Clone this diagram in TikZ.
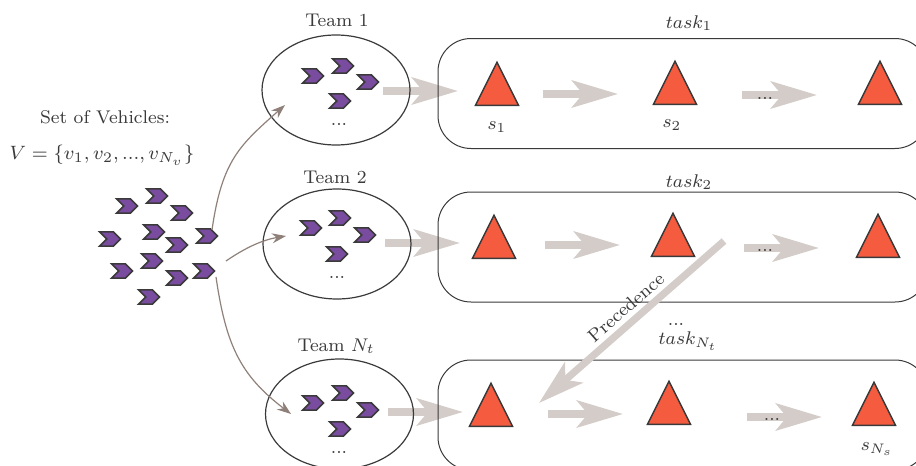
\documentclass[tikz,border=0pt]{standalone}
\usepackage{tikz}
\usetikzlibrary{arrows.meta,shapes.geometric,shapes.symbols}
\definecolor{vehiclefill}{HTML}{7A4C9F}
\definecolor{taskfill}{HTML}{F45B3F}
\definecolor{flowgray}{HTML}{D3CCC8}
\definecolor{linkgray}{HTML}{8F807A}
\definecolor{inkgray}{HTML}{3A3A3A}
\tikzstyle{lab}=[
  text=inkgray,
  font=\footnotesize,
  scale=1.15
]
\tikzstyle{vehicle}=[
  draw=inkgray,
  fill=vehiclefill,
  line width=0.75pt,
  signal,
  signal from=west,
  signal to=east,
  inner sep=0pt,
  minimum width=10.5pt,
  minimum height=7.2pt
]
\tikzstyle{target}=[
  draw=inkgray,
  fill=taskfill,
  line width=0.75pt,
  isosceles triangle,
  isosceles triangle apex angle=53,
  isosceles triangle stretches,
  shape border rotate=90,
  anchor=lower side,
  inner sep=0pt,
  minimum width=21.5pt,
  minimum height=21.5pt
]
\tikzstyle{team}=[
  draw=inkgray,
  ellipse,
  line width=0.6pt,
  minimum width=74pt,
  minimum height=55pt
]
\tikzstyle{taskbox}=[
  draw=inkgray,
  rectangle,
  rounded corners=16.5pt,
  line width=0.5pt,
  minimum width=245pt,
  minimum height=55pt
]
\tikzstyle{flow}=[
  draw=flowgray,
  line width=3.6pt,
  -{Stealth[length=23pt,width=13.5pt,inset=5.5pt,flowgray]}
]
\tikzstyle{link}=[
  draw=linkgray,
  line width=0.6pt,
  -{Stealth[length=7pt,width=5pt,linkgray]}
]
\begin{document}
\begin{tikzpicture}[x=0.5pt,y=-0.5pt]
          \clip (0,0) rectangle (916,466);

          % arrows along each row
          \foreach \i/\xa/\ya in {1/383/91,2/543/94,3/742/95,4/385/243,5/545/245,6/744/248,7/388/412,8/548/414,9/747/417}{
            \coordinate (fa\i) at (\xa,\ya);
            \coordinate (fb\i) at (\xa+75,\ya);
            \draw[flow] (fa\i) -- (fb\i);
          }

          \node[team] (team1) at (336,90) {};
          \node[team] (team2) at (337,244) {};
          \node[team] (team3) at (339.5,414) {};

          \node[taskbox] (box1) at (683,93.5) {};
          \node[taskbox] (box2) at (683,247) {};
          \node[taskbox] (box3) at (683,415) {};

          \foreach \i/\xa/\ya in {1/127/206,2/157/196,3/182/213,4/110/239,5/154/232,6/177/245,7/207/236,8/122/271,9/152/261,10/177/278,11/204/271,12/149/297,
            13/313/76,14/343/66,15/368/82,16/340/101,
            17/311/228,18/340/218,19/365/235,20/337/254,
            21/313/403,22/343/393,23/368/410,24/340/429}{
            \node[vehicle] (v\i) at (\xa,\ya) {};
          }

          \foreach \i/\xa/\ya in {1/497/106,2/675/105,3/880/105,4/494/259,5/673/257,6/878/258,7/491/427,8/669/425,9/874/426}{
            \node[target] (s\i) at (\xa,\ya) {};
          }

          \node[lab] (set) at (105,117) {Set of Vehicles:};
          \node[lab,scale=1.05] (vset) at (102,155) {$V=\{v_1,v_2,...,v_{N_v}\}$};

          \node[lab] (t1) at (337,20) {Team 1};
          \node[lab] (t2) at (335,177) {Team 2};
          \node[lab] (t3) at (336,346) {Team $N_t$};

          \node[lab] (k1) at (689,23) {$task_1$};
          \node[lab] (k2) at (689,182) {$task_2$};
          \node[lab] (k3) at (688,341) {$task_{N_t}$};

          \node[lab] (l1) at (497,127) {$s_1$};
          \node[lab] (l2) at (672,125) {$s_2$};
          \node[lab] (l3) at (877,449) {$s_{N_s}$};

          % dots
          \foreach \i/\xa/\ya in {1/339/124,2/337/277,3/339/452,4/676/324,5/765/98,6/765/250,7/772/419}{
            \node[lab] (d\i) at (\xa,\ya) {...};
          }

          % links from the vehicles to the teams
          \coordinate (a1) at (212,230);
          \coordinate (a2) at (226,261);
          \coordinate (a3) at (216,277);
          \coordinate (b1) at (285,105);
          \coordinate (b2) at (286,236);
          \coordinate (b3) at (291,414);
          \draw[link] (a1) .. controls (222,160) and (240,145) .. (b1);
          \draw[link] (a2) .. controls (245,248) and (262,240) .. (b2);
          \draw[link] (a3) .. controls (226,345) and (240,375) .. (b3);

          \coordinate (pa) at (724,241);
          \coordinate (pb) at (539,403);
          \draw[flow] (pa) -- (pb) node[lab,pos=0.478,sloped,above=-1.5pt] (prec) {Precedence};
        \end{tikzpicture}
\end{document}
